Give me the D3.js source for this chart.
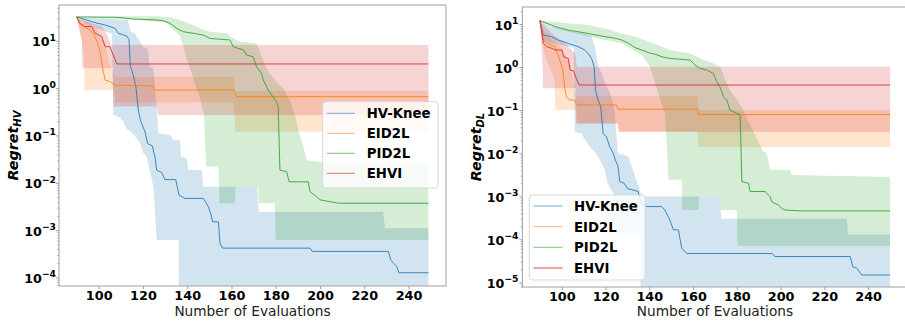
<!DOCTYPE html>
<html><head><meta charset="utf-8">
<script src="https://cdn.jsdelivr.net/npm/d3@7"></script>
<style>body{margin:0;background:#fff}svg{display:block}text{font-family:"DejaVu Sans",sans-serif}</style>
</head><body><svg id="c" width="905" height="324"></svg>
<script>
// ---------- data ----------
const methods = ["HV-Knee", "EID2L", "PID2L", "EHVI"];
const colors = ["#1f77b4", "#ff7f0e", "#2ca02c", "#d62728"];
const xTicks = [100, 120, 140, 160, 180, 200, 220, 240];
const yTickExpHV = [1, 0, -1, -2, -3, -4];
const yTickExpDL = [1, 0, -1, -2, -3, -4, -5];

// Regret_HV panel : [evaluation, value]
const knee_HV_mean = [[90,32],[98.3,24.2],[102.8,21.6],[107.4,18.3],[108.9,14.4],[112.6,12.6],[113.7,10.7],[114.3,2.84],[115.2,2.24],[116.1,1.49],[116.9,0.99],[117.9,0.347],[118.8,0.214],[119.7,0.166],[120.9,0.12],[122.1,0.0676],[124.2,0.0603],[125.4,0.0355],[126.2,0.0186],[128.4,0.0166],[129.9,0.0117],[134.8,0.0117],[136.3,0.0055],[139,0.00468],[147.3,0.00468],[149.5,0.00316],[150.6,0.00224],[151.5,0.0015],[154.1,0.0015],[154.8,0.000525],[156,0.000417],[195.5,0.000417],[196.5,0.000355],[230.9,0.000355],[232,0.000234],[233.2,0.0002],[234.7,0.00017],[235.7,0.000126],[249,0.000126]];
const knee_HV_hi = [[90,32],[100,30],[113.2,27.5],[114.4,15.5],[116.3,14.5],[120.1,7.5],[122.1,6.9],[123.1,2.84],[124.6,2.63],[125.4,1.07],[126.2,0.41],[126.9,0.111],[132.2,0.102],[133.7,0.079],[136.7,0.079],[137.2,0.0355],[139.8,0.033],[140.5,0.0186],[146.5,0.0186],[147.3,0.0083],[171.6,0.0083],[172.2,0.00245],[228.6,0.00245],[229.4,0.0011],[249,0.0011]];
const knee_HV_lo = [[90,32],[95,22.4],[100,17.8],[106,14],[106.6,0.27],[109.6,0.24],[111,0.2],[112.6,0.138],[115.7,0.107],[118.7,0.068],[120.2,0.042],[121.7,0.0355],[124.7,0.0083],[126.2,0.00062],[136.1,0.00062],[136.5,1e-8],[249,1e-8]];
const eid_HV_mean = [[90,32],[91.5,23],[93,20],[96,17],[98,13],[99.5,9],[100.6,6],[101.4,3.3],[102.1,2.24],[102.9,1.48],[105.1,1.37],[107.4,1.16],[124.7,1.11],[125.4,0.91],[160.8,0.91],[162.3,0.66],[249,0.66]];
const eid_HV_hi = [[90,32],[95,25],[99,18],[101,12.6],[103,8],[105,3.2],[107.4,1.74],[161,1.74],[161.8,0.88],[249,0.88]];
const eid_HV_lo = [[90,32],[92,12],[93.3,5],[93.6,0.91],[107,0.91],[107.5,0.5],[161,0.5],[161.8,0.12],[249,0.12]];
const pid_HV_mean = [[90,32],[108.2,31.3],[115.7,28.8],[126.2,27.5],[129.2,26.6],[132.2,23.4],[135.3,18.2],[138.3,15.5],[142.8,14.4],[147.3,13.2],[150.3,11.2],[159.3,10.4],[160.8,7.5],[163.1,6.9],[165.3,6.5],[166.8,5],[169.8,4.6],[171.3,2.84],[173.6,2.04],[174.4,1.48],[176.6,0.91],[178.1,0.72],[180.4,0.51],[181.1,0.41],[181.9,0.0186],[184.9,0.0172],[186.1,0.0105],[194.7,0.0105],[195.5,0.0065],[198.5,0.0051],[200,0.00437],[208.3,0.0037],[249,0.0037]];
const pid_HV_hi = [[90,32],[110,33],[126,33],[133,31],[139,25],[142.8,21.4],[147.3,17],[150.3,15.5],[157.8,14.4],[160.8,11.2],[163.9,9.5],[171.3,8.8],[174.4,3.9],[176.6,2.24],[180.4,1.37],[183.4,1],[186.4,0.56],[188.7,0.27],[190.2,0.13],[192.5,0.058],[194,0.03],[204.5,0.026],[249,0.026]];
const pid_HV_lo = [[90,32],[115.7,28],[130.7,24],[136.8,12.6],[138.3,7.5],[139.8,4],[142.8,1.6],[145.8,0.6],[147.6,0.27],[148.5,0.022],[154.1,0.022],[154.6,0.0037],[161.5,0.0037],[161.9,0.0083],[172,0.0083],[172.4,0.0037],[179.6,0.0037],[180,0.00062],[249,0.00062]];
const ehvi_HV_mean = [[90,32],[91.5,23.4],[93.8,20],[96.8,20],[98.3,14.4],[100,13.2],[101.4,12.3],[102.9,7.5],[105.1,7.5],[105.9,5.9],[107.1,4.3],[108.2,3.24],[249,3.24]];
const ehvi_HV_hi = [[90,32],[91.5,28],[96.8,23.4],[101.4,20],[103.5,14],[105.5,8.1],[249,8.1]];
const ehvi_HV_lo = [[90,32],[92.4,10],[92.6,2.63],[106.3,2.63],[106.6,0.41],[126.2,0.41],[126.9,0.27],[249,0.27]];

// Regret_DL panel
const knee_DL_mean = [[90,12],[91.5,5.56],[95.3,5.08],[98.3,4.25],[102.9,3.55],[107.5,2.98],[110.5,2.49],[112,2.09],[113.6,1.58],[114.8,1.02],[115.4,0.295],[116.6,0.172],[117.8,0.12],[118.9,0.0288],[120.4,0.024],[121.9,0.0141],[123.5,0.01],[124.5,0.0069],[125.7,0.0049],[126.5,0.00219],[128.5,0.002],[130,0.00151],[134.9,0.00129],[136.4,0.00068],[138.7,0.000575],[145.6,0.000575],[147.1,0.00048],[149.4,0.00028],[151,0.000166],[153.3,0.000166],[154.8,0.0000617],[157.1,0.0000468],[196,0.0000468],[197.5,0.0000398],[231.8,0.0000398],[233,0.0000229],[234.8,0.0000214],[237.1,0.0000148],[250,0.0000148]];
const knee_DL_hi = [[90,12],[95,8.7],[102,7.2],[110,6],[113.6,5.1],[115.1,2.98],[116.8,1.02],[118.3,0.71],[119.8,0.42],[122.1,0.245],[124.1,0.1],[125.6,0.01],[130.5,0.0083],[134.3,0.0022],[136.6,0.00098],[172.4,0.00098],[172.9,0.0003],[230.3,0.0003],[230.8,0.00013],[250,0.00013]];
const knee_DL_lo = [[90,12],[91.5,4],[100,3.2],[105.5,2.8],[105.9,0.0316],[109,0.0288],[110.5,0.0204],[112.8,0.0141],[115.1,0.0107],[117.4,0.0069],[119.7,0.0041],[120.9,0.002],[123.5,0.00117],[125.7,0.000138],[135.9,0.000138],[136.3,1e-9],[250,1e-9]];
const eid_DL_mean = [[90,12],[91.5,4.27],[93,3.55],[95.3,3.24],[96.8,2.98],[98.3,1.9],[99.8,1.12],[100.6,0.78],[101.4,0.32],[102.1,0.2],[103.7,0.172],[105.9,0.172],[106.7,0.132],[125,0.132],[125.7,0.105],[162,0.105],[162.5,0.079],[250,0.079]];
const eid_DL_hi = [[90,12],[92,6.3],[96,4],[100,2.8],[103.7,1.26],[106.7,0.21],[162,0.21],[162.5,0.1],[250,0.1]];
const eid_DL_lo = [[90,12],[92,2],[96.8,0.5],[97,0.1],[106.4,0.1],[106.7,0.049],[125.7,0.049],[126,0.0316],[162,0.0316],[162.5,0.014],[250,0.014]];
const pid_DL_mean = [[90,12],[97,8.7],[103,7.2],[112.2,6],[118.3,5.25],[124.4,4.65],[127.4,4.25],[130.5,3.55],[133.5,2.82],[136.6,2.49],[139.6,2.16],[142.7,1.98],[145.7,1.74],[149.5,1.58],[158.6,1.46],[160.9,1.12],[163.2,0.93],[166.3,0.85],[169.3,0.71],[170.8,0.46],[172.4,0.34],[173.9,0.204],[175.4,0.172],[176.9,0.1],[180,0.084],[181.5,0.078],[182.3,0.00219],[185.3,0.002],[186.1,0.00129],[192.9,0.00129],[195.2,0.00098],[196,0.00074],[197.5,0.00068],[199,0.00063],[200.5,0.00052],[202.1,0.00048],[208.9,0.000457],[250,0.000457]];
const pid_DL_hi = [[90,12],[97,11.2],[103,10.4],[112.2,9.5],[119.8,7.9],[127.4,6],[133.5,5.1],[139.6,3.9],[145.7,2.98],[149.5,2.49],[154.1,2.28],[158.6,2.09],[164.7,1.46],[169.3,1.22],[172.4,1.02],[174.7,0.5],[176.9,0.295],[180,0.172],[182.3,0.12],[183.8,0.078],[185.3,0.054],[187.6,0.0316],[192.1,0.0108],[193.7,0.01],[195.2,0.0041],[204.4,0.0041],[205.1,0.0031],[250,0.0028]];
const pid_DL_lo = [[90,12],[97,7.9],[112.2,5.1],[127.4,3.55],[136.6,1.9],[140.2,1.02],[142.7,0.42],[145,0.17],[147.2,0.085],[148.8,0.0024],[154.8,0.0024],[155.1,0.00048],[162.5,0.00048],[162.8,0.00098],[172.4,0.00098],[172.7,0.00048],[180,0.00048],[180.3,0.0000708],[250,0.0000708]];
const ehvi_DL_mean = [[90,12],[91.6,3.55],[93.1,2.98],[95.4,2.72],[97,2.49],[100,2.49],[100.8,1.74],[103,1.58],[103.8,0.85],[105.3,0.82],[106.9,0.5],[107.9,0.383],[250,0.383]];
const ehvi_DL_hi = [[90,12],[95.4,6],[101.5,3.55],[106.1,2.09],[106.9,1.02],[250,1.02]];
const ehvi_DL_lo = [[90,12],[91.3,1],[91.5,0.324],[106.4,0.324],[106.7,0.049],[125.7,0.049],[126,0.0316],[250,0.0316]];

// ---------- layout ----------
const panels = [
  { sub: "HV", px: [59, 446], py: [5, 286], xdom: [82.05, 256.95], ydom: [Math.pow(10, -4.18), Math.pow(10, 1.756)],
    yExp: yTickExpHV, ylabX: 17.5, labelRight: 56,
    legend: { x: 322.7, y: 101.7, w: 115.3, h: 86.3, lx: [326.7, 355], tx: 366.7, rows: [113.3, 133.3, 153.3, 173.3] },
    series: [[knee_HV_mean, knee_HV_lo, knee_HV_hi], [eid_HV_mean, eid_HV_lo, eid_HV_hi], [pid_HV_mean, pid_HV_lo, pid_HV_hi], [ehvi_HV_mean, ehvi_HV_lo, ehvi_HV_hi]] },
  { sub: "DL", px: [522.4, 907.5], py: [7, 287], xdom: [82, 258], ydom: [Math.pow(10, -5.108), Math.pow(10, 1.395)],
    yExp: yTickExpDL, ylabX: 481, labelRight: 518.5,
    legend: { x: 529.3, y: 195, w: 115.7, h: 85, lx: [533.3, 562.7], tx: 574, rows: [206, 226.7, 247.3, 268] },
    series: [[knee_DL_mean, knee_DL_lo, knee_DL_hi], [eid_DL_mean, eid_DL_lo, eid_DL_hi], [pid_DL_mean, pid_DL_lo, pid_DL_hi], [ehvi_DL_mean, ehvi_DL_lo, ehvi_DL_hi]] }
];

const svg = d3.select("#c");
const spine = "#a0a0a0";

panels.forEach((p, pi) => {
  const x = d3.scaleLinear().domain(p.xdom).range(p.px);
  const y = d3.scaleLog().domain(p.ydom).range([p.py[1], p.py[0]]);
  const g = svg.append("g");
  const clipId = "clip" + pi;
  g.append("clipPath").attr("id", clipId).append("rect")
    .attr("x", p.px[0]).attr("y", p.py[0]).attr("width", p.px[1] - p.px[0]).attr("height", p.py[1] - p.py[0]);
  const plot = g.append("g").attr("clip-path", `url(#${clipId})`);
  const line = d3.line().x(d => x(d[0])).y(d => y(d[1]));

  // bands
  p.series.forEach((s, i) => {
    const [mean, lo, hi] = s;
    plot.append("path").attr("d", line(hi.concat(lo.slice().reverse())) + "Z")
      .attr("fill", colors[i]).attr("fill-opacity", 0.2).attr("stroke", "none");
  });
  // mean lines
  p.series.forEach((s, i) => {
    plot.append("path").attr("d", line(s[0])).attr("fill", "none")
      .attr("stroke", colors[i]).attr("stroke-width", 1).attr("stroke-opacity", 0.85);
  });

  // x axis
  g.append("g").attr("transform", `translate(0,${p.py[1]})`)
    .call(d3.axisBottom(x).tickValues(xTicks).tickSize(3).tickPadding(2).tickFormat(d3.format("d")))
    .call(a => a.select(".domain").remove())
    .call(a => a.selectAll("line").attr("stroke", spine))
    .call(a => a.selectAll("text").attr("font-size", 12.8).attr("font-weight", "bold").attr("fill", "#000")
      .attr("font-family", "DejaVu Sans"));

  // y minor ticks
  const minor = [];
  for (let k = -10; k <= 2; k++) for (let m = 2; m <= 9; m++) {
    const v = m * Math.pow(10, k);
    if (v >= p.ydom[0] && v <= p.ydom[1]) minor.push(v);
  }
  g.append("g").attr("transform", `translate(${p.px[0]},0)`)
    .call(d3.axisLeft(y).tickValues(minor).tickSize(1.6).tickFormat(""))
    .call(a => a.select(".domain").remove())
    .call(a => a.selectAll("line").attr("stroke", spine));

  // y major ticks
  const ya = g.append("g").attr("transform", `translate(${p.px[0]},0)`)
    .call(d3.axisLeft(y).tickValues(p.yExp.map(e => Math.pow(10, e))).tickSize(3).tickPadding(p.px[0] - p.labelRight - 3)
      .tickFormat(""))
    .call(a => a.select(".domain").remove())
    .call(a => a.selectAll("line").attr("stroke", spine));
  ya.selectAll(".tick text").each(function (d) {
    const t = d3.select(this).attr("dy", null).attr("y", 5).attr("font-size", 12.7).attr("font-weight", "bold")
      .attr("fill", "#000").attr("font-family", "DejaVu Sans");
    const e = Math.round(Math.log10(d));
    t.text(null);
    t.append("tspan").text("10");
    t.append("tspan").attr("font-size", 9.2).attr("dy", -5.5).text((e < 0 ? "\u2212" : "") + Math.abs(e));
  });

  // frame
  g.append("rect").attr("x", p.px[0]).attr("y", p.py[0]).attr("width", p.px[1] - p.px[0]).attr("height", p.py[1] - p.py[0])
    .attr("fill", "none").attr("stroke", spine).attr("stroke-width", 1);

  // labels
  g.append("text").attr("x", (p.px[0] + p.px[1]) / 2).attr("y", 315.5).attr("text-anchor", "middle")
    .attr("font-size", 13.7).attr("fill", "#222").text("Number of Evaluations");
  const yl = g.append("text").attr("transform", `translate(${p.ylabX},${(p.py[0] + p.py[1]) / 2}) rotate(-90)`)
    .attr("text-anchor", "middle").attr("font-weight", "bold").attr("font-style", "italic").attr("fill", "#000");
  yl.append("tspan").attr("font-size", 14.3).text("Regret");
  yl.append("tspan").attr("font-size", 10).attr("dy", 3).text(p.sub);

  // legend
  const L = p.legend;
  g.append("rect").attr("x", L.x).attr("y", L.y).attr("width", L.w).attr("height", L.h).attr("rx", 3)
    .attr("fill", "#fff").attr("fill-opacity", 0.8).attr("stroke", "#d8d8d8").attr("stroke-width", 1);
  methods.forEach((m, i) => {
    const thick = (pi === 1 && i === 3);
    g.append("line").attr("x1", L.lx[0]).attr("x2", L.lx[1]).attr("y1", L.rows[i]).attr("y2", L.rows[i])
      .attr("stroke", colors[i]).attr("stroke-width", thick ? 2.2 : 1).attr("stroke-opacity", thick ? 0.4 : 0.6);
    g.append("text").attr("x", L.tx).attr("y", L.rows[i] + 4.8).attr("font-size", 13.3).attr("font-weight", "bold")
      .attr("fill", "#000").text(m);
  });
});
</script>
</body></html>
